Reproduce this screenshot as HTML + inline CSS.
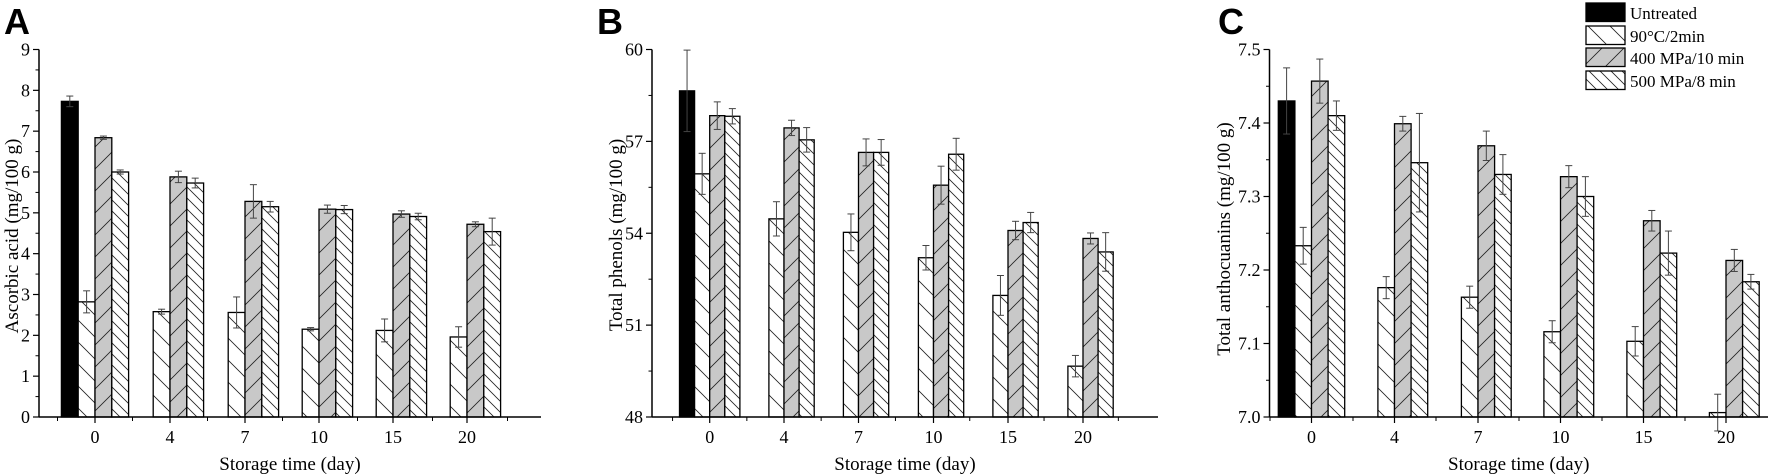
<!DOCTYPE html>
<html><head><meta charset="utf-8"><style>
html,body{margin:0;padding:0;background:#fff;}
svg{display:block;}
text{font-family:"Liberation Serif",serif;fill:#000;}
</style></head><body>
<svg id="s" width="1772" height="474" viewBox="0 0 1772 474" xmlns="http://www.w3.org/2000/svg">
<defs>
<pattern id="pw" patternUnits="userSpaceOnUse" width="22" height="22"><rect width="22" height="22" fill="#fff"/><path d="M-2,-2 L24,24 M-13,9 L13,35 M9,-13 L35,13" stroke="#222" stroke-width="0.8"/></pattern>
<pattern id="pg" patternUnits="userSpaceOnUse" width="22" height="22"><rect width="22" height="22" fill="#c8c8c8"/><path d="M-2,24 L24,-2 M-13,13 L13,-13 M9,35 L35,9" stroke="#222" stroke-width="0.8"/></pattern>
<pattern id="ph" patternUnits="userSpaceOnUse" width="11" height="11"><rect width="11" height="11" fill="#fff"/><path d="M-1,-1 L12,12 M-6.5,4.5 L6.5,17.5 M4.5,-6.5 L17.5,6.5" stroke="#222" stroke-width="0.8"/></pattern>
</defs>
<g id="g"></g>
</svg>
<script>
var g=document.getElementById('g'),h='';
function R(x,y,w,hh,f){h+='<rect x="'+x+'" y="'+y+'" width="'+w+'" height="'+hh+'" fill="'+f+'" stroke="#000" stroke-width="1.3"/>';}
function L(a,b,c,d,w,col){h+='<line x1="'+a+'" y1="'+b+'" x2="'+c+'" y2="'+d+'" stroke="'+(col||'#000')+'" stroke-width="'+(w||1.2)+'"/>';}
function T(x,y,s,sz,anc,extra){h+='<text x="'+x+'" y="'+y+'" font-size="'+sz+'" text-anchor="'+(anc||'middle')+'" '+(extra||'')+'>'+s+'</text>';}
function panel(p){
 var y0=417,y1=49.5,ax=p.ax,xr=p.xr;
 function Y(v){return y0-(v-p.min)/(p.max-p.min)*(y0-y1);}
 var bw=p.bw;
 var fills=['#000','url(#pw)','url(#pg)','url(#ph)'];
 for(var i=0;i<p.data.length;i++){
  var c=p.ticks[i],d=p.data[i];
  var xs=[c-2*bw,c-bw,c,c+bw];
  var start=(d.length==4)?0:1;
  for(var k=0;k<d.length;k++){
   var idx=start+k,v=d[k][0],e=d[k][1];
   var top=Y(v);
   R(xs[idx],top,bw,y0-top,fills[idx]);
   var cx=xs[idx]+bw/2;
   L(cx,Y(v+e),cx,Y(v-e),1,'#444');
   L(cx-3.5,Y(v+e),cx+3.5,Y(v+e),1,'#444');
   L(cx-3.5,Y(v-e),cx+3.5,Y(v-e),1,'#444');
  }
 }
 L(ax,y1,ax,y0+0.5,1.5);L(ax,y0,xr,y0,1.5);
 var n=Math.round((p.max-p.min)/p.step);
 for(var j=0;j<=n;j++){var v=p.min+j*p.step,y=Y(v);L(ax-6,y,ax,y,1.2);
  T(ax-9,y+6,p.fmt(v),18,'end');
  if(j<n){var ym=Y(v+p.step/2);L(ax-3.5,ym,ax,ym,1);}}
 var sp=p.ticks[1]-p.ticks[0];
 for(var i=0;i<p.ticks.length;i++){L(p.ticks[i],y0,p.ticks[i],y0+6,1.2);T(p.ticks[i],443,p.labels[i],18);}
 for(var i=-1;i<p.ticks.length;i++){var xm=p.ticks[0]+(i+0.5)*sp;if(xm>ax&&xm<xr)L(xm,y0,xm,y0+4,1);}
 T((ax+xr)/2,470,'Storage time (day)',19);
 h+='<text x="'+p.yl+'" y="'+p.ylc+'" font-size="19" text-anchor="middle" transform="rotate(-90 '+p.yl+' '+p.ylc+')">'+p.ytitle+'</text>';
 h+='<text x="'+p.lx+'" y="34" font-size="36" font-weight="bold" style="font-family:\'Liberation Sans\',sans-serif">'+p.letter+'</text>';
}
var labs=['0','4','7','10','15','20'];
panel({ax:39,xr:541,min:0,max:9,step:1,fmt:function(v){return v.toFixed(0)},bw:16.8,
 ticks:[95,170,245,319,393,467],labels:labs,yl:18,ylc:236,ytitle:'Ascorbic acid (mg/100 g)',lx:4,letter:'A',
 data:[[[7.73,.13],[2.82,.27],[6.84,.04],[6.0,.05]],[[2.58,.06],[5.88,.14],[5.73,.12]],[[2.56,.38],[5.28,.41],[5.15,.13]],[[2.15,.04],[5.09,.1],[5.08,.1]],[[2.12,.28],[4.97,.08],[4.91,.08]],[[1.96,.25],[4.72,.06],[4.54,.33]]]});
panel({ax:652,xr:1158,min:48,max:60,step:3,fmt:function(v){return v.toFixed(0)},bw:15.1,
 ticks:[709.7,784,858.5,933.5,1008,1083],labels:labs,yl:622,ylc:235,ytitle:'Total phenols (mg/100 g)',lx:597,letter:'B',
 data:[[[58.65,1.33],[55.94,.67],[57.84,.45],[57.82,.25]],[[54.47,.56],[57.44,.25],[57.05,.4]],[[54.03,.6],[56.64,.44],[56.64,.42]],[[53.2,.4],[55.57,.62],[56.58,.52]],[[51.97,.65],[54.09,.3],[54.35,.33]],[[49.66,.35],[53.83,.18],[53.39,.63]]]});
panel({ax:1269.5,xr:1768,min:7.0,max:7.5,step:0.1,fmt:function(v){return v.toFixed(1)},bw:16.6,
 ticks:[1311.5,1394.5,1478,1560.5,1643.5,1726],labels:labs,yl:1230,ylc:239,ytitle:'Total anthocuanins (mg/100 g)',lx:1218,letter:'C',
 data:[[[7.43,.045],[7.233,.025],[7.457,.03],[7.41,.02]],[[7.176,.015],[7.399,.01],[7.346,.067]],[[7.163,.015],[7.369,.02],[7.33,.027]],[[7.116,.015],[7.327,.015],[7.3,.027]],[[7.103,.02],[7.267,.014],[7.223,.03]],[[7.006,.025],[7.213,.015],[7.184,.01]]]});
var lg=[['#000','Untreated',3],['url(#pw)','90°C/2min',26],['url(#pg)','400 MPa/10 min',48],['url(#ph)','500 MPa/8 min',71]];
lg.forEach(function(a){R(1586,a[2],39,18.5,a[0]);T(1630,a[2]+16,a[1],17,'start');});
g.innerHTML=h;
</script>
</body></html>
